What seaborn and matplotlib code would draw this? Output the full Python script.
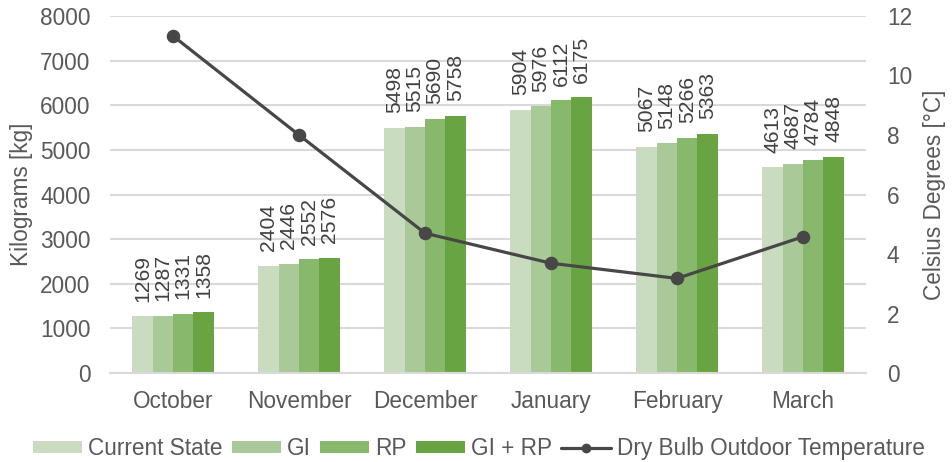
import numpy as np
import pandas as pd
import matplotlib
matplotlib.use("Agg")
import matplotlib.pyplot as plt
import seaborn as sns
from matplotlib.patches import Patch
from matplotlib.lines import Line2D

#------------DATA----------
months = ['October', 'November', 'December', 'January', 'February', 'March']
scenarios = ['Current State', 'GI', 'RP', 'GI + RP']
current_state = [1269, 2404, 5498, 5904, 5067, 4613]
gi = [1287, 2446, 5515, 5976, 5148, 4687]
rp = [1331, 2552, 5690, 6112, 5266, 4784]
gi_rp = [1358, 2576, 5758, 6175, 5363, 4848]
temperature = [11.33, 8.0, 4.7, 3.69, 3.18, 4.58]

bar_colors = ['#C9DCC0', '#A9CA98', '#88B86C', '#69A443']
line_color = '#474747'
text_color = '#595959'
fs = 16.3

df = pd.DataFrame({
    'Month': months * 4,
    'Scenario': np.repeat(scenarios, len(months)),
    'Kg': current_state + gi + rp + gi_rp,
})

#----------- PLOT---------------
sns.set_style("white")
plt.rcParams['font.family'] = ['Liberation Sans', 'DejaVu Sans']
plt.rcParams['font.size'] = fs

fig = plt.figure(figsize=(9.52, 4.62), dpi=100)
ax = fig.add_axes([0.1155, 0.1926, 0.7942, 0.7728])

sns.barplot(data=df, x='Month', y='Kg', hue='Scenario', order=months,
            hue_order=scenarios, palette=bar_colors, saturation=1,
            width=0.645, linewidth=0, ax=ax, legend=False)

# value labels, rotated like the original
for cont in ax.containers:
    ax.bar_label(cont, rotation=90, padding=10.5, color='#404040', fontsize=15.2)

ax.set_ylim(0, 8000)
ax.set_yticks(range(0, 8001, 1000))
ax.set_xlim(-0.5, 5.5)
ax.grid(axis='y', color='#D9D9D9', linewidth=1.5)
ax.set_axisbelow(True)
for s in ['top', 'left', 'right']:
    ax.spines[s].set_visible(False)
ax.spines['bottom'].set_color('#D9D9D9')
ax.spines['bottom'].set_linewidth(1.5)
ax.tick_params(axis='y', length=0, pad=14, colors=text_color, labelsize=fs)
ax.tick_params(axis='x', length=0, pad=12, colors=text_color, labelsize=fs)
ax.set_xlabel('')
ax.set_ylabel('Kilograms [kg]', color=text_color, fontsize=fs, labelpad=5)

#----------- TEMPERATURE LINE (right axis)---------
ax2 = ax.twinx()
sns.pointplot(x=months, y=temperature, order=months, color=line_color,
              markers='o', markersize=8, linewidth=2.3, ax=ax2)
ax2.set_ylim(0, 12)
ax2.set_yticks(range(0, 13, 2))
ax2.set_xlim(-0.5, 5.5)
for s in ['top', 'left', 'right', 'bottom']:
    ax2.spines[s].set_visible(False)
ax2.tick_params(axis='y', length=0, pad=15, colors=text_color, labelsize=fs)
ax2.set_ylabel('Celsius Degrees [°C]', color=text_color, fontsize=fs, labelpad=8)

#----------- LEGEND---------------
handles = [Patch(facecolor=c, edgecolor='none') for c in bar_colors]
handles.append(Line2D([], [], color=line_color, linewidth=2.3, marker='o', markersize=6))
labels = scenarios + ['Dry Bulb Outdoor Temperature']
fig.legend(handles, labels, loc='center', bbox_to_anchor=(0.503, 0.030), ncol=5,
           frameon=False, fontsize=fs, handlelength=2.17, handleheight=0.44,
           handletextpad=0.27, columnspacing=0.4, labelcolor=text_color)

plt.savefig("out.png", dpi=100)
plt.close()
